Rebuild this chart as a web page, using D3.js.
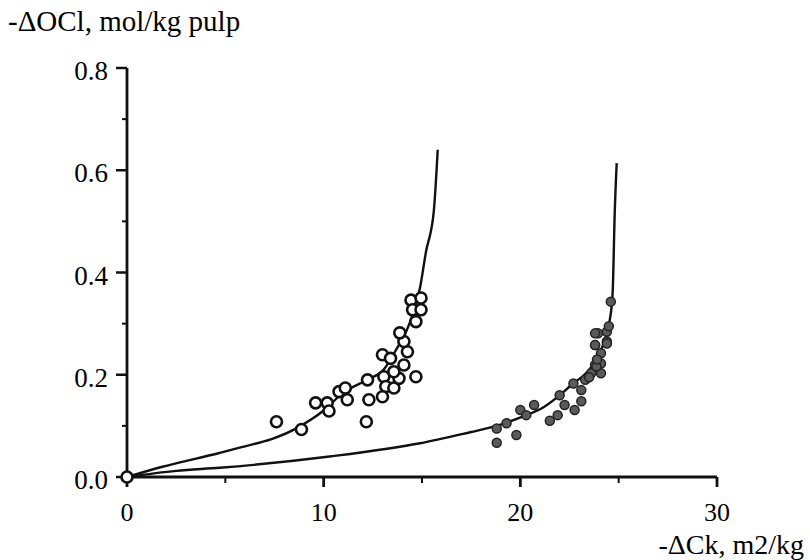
<!DOCTYPE html>
<html>
<head>
<meta charset="utf-8">
<script src="https://cdn.jsdelivr.net/npm/d3@7"></script>
<style>
  body { margin: 0; background: #fff; }
  text { font-family: "Liberation Serif", "Times New Roman", serif; fill: #000; }
</style>
</head>
<body>
<svg id="chart"></svg>
<script>
// fitted curves
const curveAx = [0, 1.8, 4.7, 5.3, 8.7, 10, 11, 12.2, 13.05, 13.7, 14.3, 14.9, 15.2, 15.6, 15.8];
const curveAy = [0, 0.02, 0.047, 0.053, 0.097, 0.13, 0.165, 0.19, 0.21, 0.25, 0.294, 0.37, 0.44, 0.52, 0.64];
const curveBx = [0, 2.5, 4.7, 10.3, 14.9, 17.5, 18.4, 20.05, 21.2, 22.6, 23.6, 24.1, 24.6, 24.7, 24.8, 24.9];
const curveBy = [0, 0.012, 0.018, 0.04, 0.066, 0.088, 0.096, 0.117, 0.137, 0.18, 0.215, 0.248, 0.32, 0.366, 0.517, 0.614];

// open circles
const openX = [0, 7.6, 8.87, 9.59, 10.18, 10.27, 10.78, 11.1, 11.2, 12.23, 12.3, 12.17, 12.99, 13.4, 13.06, 13.16,
  12.99, 13.57, 13.83, 13.57, 14.08, 14.26, 14.08, 13.87, 14.69, 14.69, 14.44, 14.95, 14.52, 14.95];
const openY = [0, 0.108, 0.093, 0.145, 0.145, 0.129, 0.167, 0.174, 0.151, 0.19, 0.151, 0.108, 0.239, 0.232, 0.196, 0.177,
  0.157, 0.174, 0.193, 0.206, 0.219, 0.245, 0.265, 0.282, 0.196, 0.304, 0.346, 0.35, 0.327, 0.327];

// filled circles
const fillX = [18.8, 19.8, 18.8, 19.3, 20.0, 20.3, 20.7, 21.5, 21.9, 22.0, 22.25, 22.76, 22.7, 23.1, 23.1, 23.3,
  23.6, 23.8, 24.1, 24.1, 23.8, 23.95, 24.4, 24.4, 24.6, 24.5, 23.8, 23.8, 24.4, 24.1, 23.87, 23.5, 23.9];
const fillY = [0.067, 0.082, 0.095, 0.105, 0.131, 0.121, 0.141, 0.11, 0.121, 0.16, 0.141, 0.131, 0.183, 0.148, 0.17, 0.19,
  0.203, 0.219, 0.203, 0.222, 0.258, 0.281, 0.265, 0.284, 0.343, 0.295, 0.281, 0.258, 0.261, 0.242, 0.216, 0.195, 0.23];

const xTicks = [0, 10, 20, 30];
const xMinor = [5, 15, 25];
const yTicks = [0, 0.2, 0.4, 0.6, 0.8];
const yMinor = [0.1, 0.3, 0.5, 0.7];

const W = 810, H = 560;
const svg = d3.select("#chart").attr("width", W).attr("height", H);

const x = d3.scaleLinear().domain([0, 30]).range([127, 717]);
const y = d3.scaleLinear().domain([0, 0.8]).range([477, 68]);

// curves
const line = d3.line().x(d => x(d[0])).y(d => y(d[1])).curve(d3.curveMonotoneX);
[[curveAx, curveAy], [curveBx, curveBy]].forEach(function (c) {
  svg.append("path")
    .attr("d", line(c[0].map((v, i) => [v, c[1][i]])))
    .attr("fill", "none")
    .attr("stroke", "#111")
    .attr("stroke-width", 2.4);
});

// axes
svg.append("line").attr("x1", x(0)).attr("x2", x(30)).attr("y1", y(0)).attr("y2", y(0))
  .attr("stroke", "#111").attr("stroke-width", 2.8);
svg.append("line").attr("x1", x(0)).attr("x2", x(0)).attr("y1", y(0)).attr("y2", y(0.8))
  .attr("stroke", "#111").attr("stroke-width", 2.8);

svg.selectAll(".xt").data(xTicks).enter().append("line")
  .attr("x1", d => x(d)).attr("x2", d => x(d)).attr("y1", y(0)).attr("y2", y(0) + 10)
  .attr("stroke", "#111").attr("stroke-width", 2.8);
svg.selectAll(".xm").data(xMinor).enter().append("line")
  .attr("x1", d => x(d)).attr("x2", d => x(d)).attr("y1", y(0)).attr("y2", y(0) + 6)
  .attr("stroke", "#111").attr("stroke-width", 2);
svg.selectAll(".yt").data(yTicks).enter().append("line")
  .attr("x1", x(0) - 11).attr("x2", x(0)).attr("y1", d => y(d)).attr("y2", d => y(d))
  .attr("stroke", "#111").attr("stroke-width", 2.5);
svg.selectAll(".ym").data(yMinor).enter().append("line")
  .attr("x1", x(0) - 5).attr("x2", x(0)).attr("y1", d => y(d)).attr("y2", d => y(d))
  .attr("stroke", "#111").attr("stroke-width", 2);

svg.selectAll(".xl").data(xTicks).enter().append("text")
  .attr("x", d => x(d)).attr("y", 521)
  .attr("text-anchor", "middle").style("font-size", "26px")
  .text(d => d);
svg.selectAll(".yl").data(yTicks).enter().append("text")
  .attr("x", 108).attr("y", d => y(d) + 12)
  .attr("text-anchor", "end").style("font-size", "27px")
  .text(d => d.toFixed(1));

// axis titles
svg.append("text").attr("x", 804).attr("y", 554).attr("text-anchor", "end")
  .style("font-size", "28px").text("-ΔCk, m2/kg");
svg.append("text").attr("x", 8).attr("y", 31)
  .style("font-size", "29px").text("-ΔOCl, mol/kg pulp");

// markers
svg.selectAll(".fp").data(fillX).enter().append("circle")
  .attr("cx", d => x(d)).attr("cy", (d, i) => y(fillY[i])).attr("r", 4.5)
  .attr("fill", "#5a5a5a").attr("stroke", "#222").attr("stroke-width", 1.5);
svg.selectAll(".op").data(openX).enter().append("circle")
  .attr("cx", d => x(d)).attr("cy", (d, i) => y(openY[i])).attr("r", 5.5)
  .attr("fill", "#fff").attr("stroke", "#111").attr("stroke-width", 2.6);
</script>
</body>
</html>
